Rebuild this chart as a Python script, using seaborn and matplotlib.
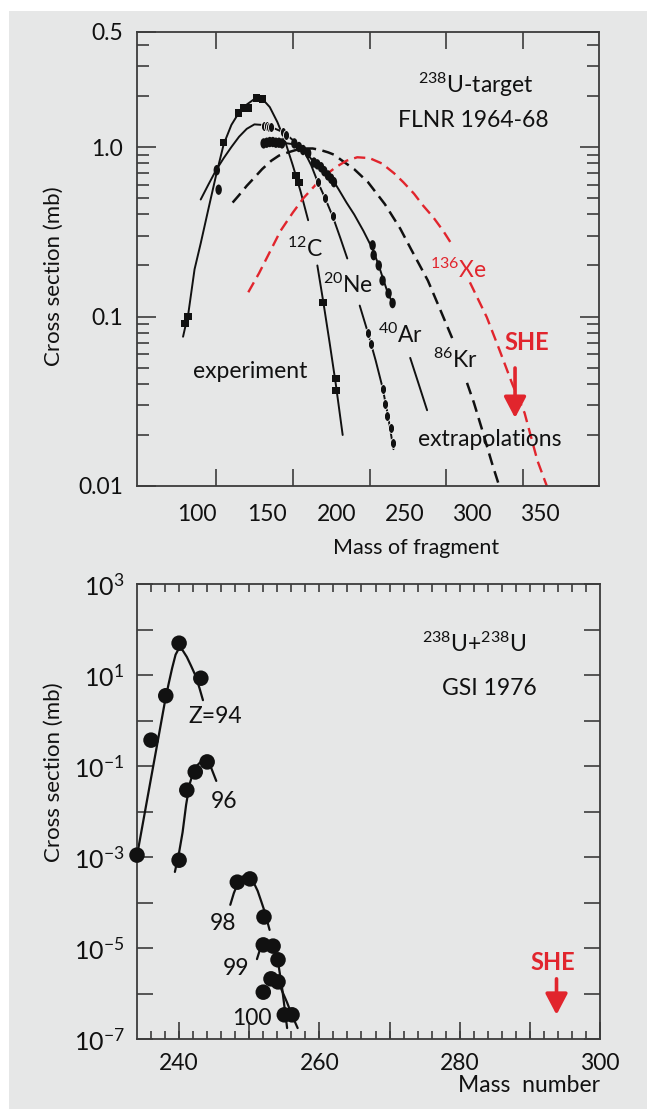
"""
Heavy-ion transfer cross sections: FLNR 1964-68 (238U target) and GSI 1976 (238U+238U).
"""
import numpy as np
import matplotlib.pyplot as plt
import seaborn as sns
from matplotlib.patches import Rectangle
from matplotlib.path import Path
from matplotlib.transforms import Affine2D
from matplotlib.ticker import FixedLocator, LogLocator, NullFormatter, NullLocator

sns.set_theme(style="ticks")
plt.rcParams["font.family"] = ["Lato", "DejaVu Sans"]
plt.rcParams["mathtext.fontset"] = "custom"
plt.rcParams["mathtext.rm"] = "Lato"
plt.rcParams["mathtext.it"] = "Lato:italic"
plt.rcParams["mathtext.bf"] = "Lato:bold"
plt.rcParams["mathtext.default"] = "regular"

BG = "#e6e7e7"
RED = "#e1252d"
INK = "#111111"
AXC = "#3c3c3c"
FS = 16        # axis titles
FS_TICK = 16.5
FS_TXT = 16.5  # in-plot annotations

# ---------------------------------------------------------------
# Top panel data (mass of fragment, cross section in mb)
# ---------------------------------------------------------------
c12_a_x = [78.5, 82, 86, 90, 95, 100, 105, 110, 115, 120, 125, 130, 135, 140, 145, 150, 155, 160]
c12_a_y = [0.076, 0.105, 0.19, 0.27, 0.43, 0.68, 1.04, 1.35, 1.6, 1.78, 1.92, 1.93, 1.72, 1.4, 1.08, 0.78, 0.55, 0.37]
c12_b_x = [166, 170, 174, 178, 182.5]
c12_b_y = [0.2, 0.12, 0.07, 0.04, 0.02]
c12_pts_x = [79.8, 81.7, 105, 114.7, 117.9, 121.1, 126.3, 130.2, 152.2, 154.1, 169.7, 178.1, 178.1]
c12_pts_y = [0.091, 0.1, 1.06, 1.59, 1.7, 1.7, 1.95, 1.92, 0.68, 0.62, 0.121, 0.043, 0.0365]

ne_a_x = [90, 95, 100, 105, 110, 115, 120, 125, 130, 136, 144, 150, 157, 162, 166, 171, 176, 181, 185.5]
ne_a_y = [0.49, 0.6, 0.73, 0.86, 1.0, 1.15, 1.28, 1.36, 1.35, 1.31, 1.22, 1.1, 0.96, 0.78, 0.63, 0.5, 0.39, 0.29, 0.22]
ne_b_x = [193.6, 199, 204, 208.5, 212, 215.6]
ne_b_y = [0.116, 0.08, 0.055, 0.038, 0.026, 0.0165]
ne_pts_x = [131.5, 133, 134.5, 136, 143.8, 145.7, 166.4, 171, 176.1, 198.8, 200.7, 208.5, 210.4, 211.7, 213.7, 215]
ne_pts_y = [1.33, 1.33, 1.32, 1.31, 1.23, 1.18, 0.62, 0.5, 0.39, 0.08, 0.069, 0.0376, 0.0306, 0.026, 0.022, 0.018]

ar_a_x = [131, 137, 143, 150, 157, 163, 168, 173, 177, 180, 185, 190, 196, 202, 206, 209, 212, 215]
ar_a_y = [1.06, 1.07, 1.06, 1.04, 0.96, 0.83, 0.76, 0.68, 0.62, 0.56, 0.47, 0.4, 0.32, 0.25, 0.2, 0.165, 0.137, 0.12]
ar_b_x = [226.5, 232, 237.5]
ar_b_y = [0.057, 0.04, 0.028]
ar_pts_x = [100.5, 101.7, 131, 133, 135, 137, 139, 141, 143, 151, 154, 156.7, 160, 163.8, 166, 168.4,
            170.5, 172.9, 175, 176.8, 202, 202.7, 206, 208.5, 212.4, 215]
ar_pts_y = [0.73, 0.56, 1.05, 1.06, 1.07, 1.07, 1.06, 1.06, 1.05, 1.05, 1.0, 0.96, 0.92, 0.81, 0.79, 0.76,
            0.72, 0.68, 0.65, 0.62, 0.263, 0.23, 0.2, 0.163, 0.137, 0.12]

kr_a_x = [110.8, 115, 120, 125, 130, 136, 141, 147, 152, 157, 163, 168, 173, 177, 183, 190, 199, 210,
          220, 227, 238, 246, 254]
kr_a_y = [0.47, 0.52, 0.59, 0.66, 0.74, 0.83, 0.89, 0.93, 0.96, 0.98, 0.98, 0.96, 0.93, 0.9, 0.82, 0.74,
          0.62, 0.46, 0.33, 0.25, 0.163, 0.11, 0.074]
kr_b_x = [263.5, 268, 273, 279.7, 284.8]
kr_b_y = [0.0406, 0.031, 0.022, 0.0137, 0.0098]

xe_a_x = [121, 128, 135, 142, 150, 157, 165, 172, 178, 185, 192, 200, 208, 216, 222, 229, 235, 241.5, 248, 254]
xe_a_y = [0.139, 0.18, 0.24, 0.32, 0.41, 0.5, 0.6, 0.69, 0.76, 0.83, 0.87, 0.86, 0.8, 0.7, 0.62, 0.53,
          0.45, 0.385, 0.32, 0.263]
xe_b_x = [265.4, 271, 276.4, 284.8, 293, 301, 309.4, 315.5]
xe_b_y = [0.159, 0.125, 0.099, 0.063, 0.04, 0.027, 0.0141, 0.01]

top_major_x = [100, 150, 200, 250, 300]
top_xlabels = ["100", "150", "200", "250", "300", "350"]
top_xlabel_pos = [87.6, 133.2, 178.8, 223.1, 266.7, 311.0]
top_ylim = (0.01, 4.77)
top_yticks = [0.01, 0.1, 1.0, 4.77]
top_ylabels = ["0.01", "0.1", "1.0", "0.5"]

# ---------------------------------------------------------------
# Bottom panel data (mass number, cross section in mb)
# ---------------------------------------------------------------
z94_x = [234.1, 235, 236, 237, 238, 238.5, 239, 239.5, 240, 240.5, 241.1, 241.7, 242.3, 242.9, 243.4]
z94_y = [1.3e-3, 7.6e-3, 0.054, 0.38, 2.7, 6.3, 14, 28, 39, 35, 25, 16, 10, 5.2, 2.8]
z94_pts_x = [234.0, 236, 238.1, 240, 243.1]
z94_pts_y = [1.1e-3, 0.37, 3.5, 50, 8.5]

z96_x = [239.4, 240, 240.5, 241, 241.5, 242, 242.5, 243, 243.5, 244, 244.6, 245.3]
z96_y = [4.7e-4, 1.26e-3, 3.5e-3, 0.014, 0.04, 0.071, 0.1, 0.12, 0.132, 0.126, 0.089, 0.047]
z96_pts_x = [240, 241.1, 242.3, 244]
z96_pts_y = [8.5e-4, 0.0295, 0.074, 0.123]

z98_x = [247.3, 247.8, 248.3, 248.8, 249.4, 250, 250.6, 251.2, 251.7, 252.2, 252.9]
z98_y = [8.9e-5, 1.6e-4, 2.5e-4, 3.5e-4, 4.0e-4, 3.8e-4, 2.8e-4, 1.8e-4, 1.07e-4, 6.3e-5, 2.5e-5]
z98_pts_x = [248.3, 250.1, 252.1]
z98_pts_y = [2.8e-4, 3.3e-4, 4.8e-5]

z99_x = [251.1, 251.6, 252.2, 252.9, 253.5, 254.1, 254.7, 255.4]
z99_y = [5.7e-6, 1e-5, 1.26e-5, 1.2e-5, 8.9e-6, 5e-6, 1.26e-6, 1.74e-7]
z99_pts_x = [252, 253.4, 254.1]
z99_pts_y = [1.17e-5, 1.1e-5, 5.5e-6]

z100_x = [254, 254.7, 255.4, 256.1, 256.9]
z100_y = [2e-6, 1.12e-6, 6.3e-7, 3.3e-7, 1.74e-7]
z100_pts_x = [252, 253.1, 254.1, 255, 256.1]
z100_pts_y = [1.07e-6, 2.1e-6, 1.8e-6, 3.4e-7, 3.4e-7]

bot_exponents = list(range(-7, 4))
bot_major_x = [240, 250, 260, 270, 280, 290, 300]
bot_xlabels = ["240", "", "260", "", "280", "", "300"]
bot_minor_x = list(range(236, 300, 2))


def curve(ax, xs, ys, color=INK, ls="-", lw=1.4):
    sns.lineplot(x=xs, y=ys, ax=ax, color=color, linestyle=ls, linewidth=lw,
                 sort=False, estimator=None)


def points(ax, xs, ys, marker, s, ec="none", lw=0):
    sns.scatterplot(x=xs, y=ys, ax=ax, marker=marker, s=s, color=INK,
                    edgecolor=ec, linewidth=lw, zorder=4, clip_on=False)


def style_frame(ax):
    ax.set_facecolor(BG)
    for sp in ax.spines.values():
        sp.set_visible(True)
        sp.set_color(AXC)
        sp.set_linewidth(1.3)


def she_arrow(ax, x, y_from, y_to):
    ax.annotate("", xy=(x, y_to), xytext=(x, y_from),
                arrowprops=dict(arrowstyle="-|>,head_length=0.8,head_width=0.42", color=RED,
                                lw=2.6, shrinkA=0, shrinkB=0, mutation_scale=16))


oval = Path.unit_circle().transformed(Affine2D().scale(0.62, 1.0))
DASH = (0, (4.8, 2.6))

fig = plt.figure(figsize=(6.47, 11.09), dpi=100, facecolor="white")
fig.patches.append(Rectangle((9 / 647, 0), 1, 1 - 11 / 1109, transform=fig.transFigure,
                             facecolor=BG, edgecolor="none", zorder=-10))

# ---------------------------------------------------------------
# Top panel
# ---------------------------------------------------------------
ax1 = fig.add_axes([137 / 647, 1 - 486 / 1109, 462 / 647, 454 / 1109])
style_frame(ax1)
ax1.set_yscale("log")
ax1.set_xlim(48.5, 349.5)
ax1.set_ylim(*top_ylim)

curve(ax1, c12_a_x, c12_a_y)
curve(ax1, c12_b_x, c12_b_y)
curve(ax1, ne_a_x, ne_a_y)
curve(ax1, ne_b_x, ne_b_y)
curve(ax1, ar_a_x, ar_a_y)
curve(ax1, ar_b_x, ar_b_y)
curve(ax1, kr_a_x, kr_a_y, ls=DASH, lw=1.8)
curve(ax1, kr_b_x, kr_b_y, ls=DASH, lw=1.8)
curve(ax1, xe_a_x, xe_a_y, color=RED, ls=DASH, lw=1.7)
curve(ax1, xe_b_x, xe_b_y, color=RED, ls=DASH, lw=1.7)

points(ax1, c12_pts_x, c12_pts_y, "s", 28)
points(ax1, ne_pts_x, ne_pts_y, oval, 50, ec="white", lw=0.6)
points(ax1, ar_pts_x, ar_pts_y, oval, 56)

ax1.set_xticks(top_major_x)
ax1.xaxis.set_major_formatter(NullFormatter())
ax1.set_xticks(top_xlabel_pos, labels=top_xlabels, minor=True)
ax1.tick_params(axis="x", which="major", direction="in", length=12, width=1.2, color=AXC,
                top=True, bottom=True)
ax1.tick_params(axis="x", which="minor", length=0, pad=13, labelsize=FS_TICK, labelcolor=INK)
ax1.set_yticks(top_yticks, labels=top_ylabels)
ax1.yaxis.set_minor_locator(LogLocator(base=10, subs=np.arange(2, 10)))
ax1.yaxis.set_minor_formatter(NullFormatter())
ax1.tick_params(axis="y", which="major", direction="in", length=13.5, width=1.2, color=AXC,
                left=True, right=True, pad=10, labelsize=FS_TICK, labelcolor=INK)
ax1.tick_params(axis="y", which="minor", direction="in", length=8.5, width=1.2, color=AXC,
                left=True, right=True)

ax1.set_ylabel("Cross section (mb)", fontsize=FS, color=INK)
ax1.yaxis.set_label_coords(-0.158, 0.463)
ax1.set_xlabel("Mass of fragment", fontsize=15.5, color=INK)
ax1.xaxis.set_label_coords(0.604, -0.114)

ax1.text(269.3, 2.32, "$^{238}$U-target", fontsize=FS_TXT, ha="center", va="center", color=INK)
ax1.text(267.4, 1.44, "FLNR 1964-68", fontsize=FS_TXT, ha="center", va="center", color=INK)
for label, lx, ly, col in [("$^{12}$C", 146.2, 0.2244, INK),
                           ("$^{20}$Ne", 169.7, 0.1376, INK),
                           ("$^{40}$Ar", 205.5, 0.0698, INK),
                           ("$^{86}$Kr", 241.3, 0.0497, INK),
                           ("$^{136}$Xe", 239.4, 0.1687, RED),
                           ("experiment", 85.0, 0.0434, INK),
                           ("extrapolations", 231.6, 0.0172, INK)]:
    ax1.text(lx, ly, label, fontsize=FS_TXT, ha="left", va="baseline", color=col)
ax1.text(302.6, 0.0698, "SHE", fontsize=17, fontweight="bold", ha="center", va="center", color=RED)
she_arrow(ax1, 294.8, 0.0497, 0.0252)

# ---------------------------------------------------------------
# Bottom panel
# ---------------------------------------------------------------
ax2 = fig.add_axes([137 / 647, 1 - 1039 / 1109, 463 / 647, 455 / 1109])
style_frame(ax2)
ax2.set_yscale("log")
ax2.set_xlim(234, 300)
ax2.set_ylim(1e-7, 1e3)

for xs, ys in [(z94_x, z94_y), (z96_x, z96_y), (z98_x, z98_y), (z99_x, z99_y), (z100_x, z100_y)]:
    curve(ax2, xs, ys, lw=1.6)
for xs, ys in [(z94_pts_x, z94_pts_y), (z96_pts_x, z96_pts_y), (z98_pts_x, z98_pts_y),
               (z99_pts_x, z99_pts_y), (z100_pts_x, z100_pts_y)]:
    points(ax2, xs, ys, "o", 125)

ax2.xaxis.remove_overlapping_locs = False
ax2.set_xticks(bot_major_x, labels=bot_xlabels)
ax2.set_xticks(bot_minor_x, minor=True)
ax2.tick_params(axis="x", which="major", direction="in", length=12, width=1.2, color=AXC,
                top=False, bottom=True, pad=10, labelsize=FS_TICK, labelcolor=INK)
ax2.tick_params(axis="x", which="minor", direction="in", length=6, width=1.2, color=AXC,
                top=True, bottom=True)
ax2.yaxis.set_major_locator(FixedLocator([10.0 ** e for e in bot_exponents]))
ax2.set_yticks([10.0 ** e for e in bot_exponents],
               labels=[f"$10^{{{e}}}$" if e % 2 else "" for e in bot_exponents])
ax2.yaxis.set_minor_locator(NullLocator())
ax2.tick_params(axis="y", which="major", direction="in", length=11.5, width=1.2, color=AXC,
                left=True, right=True, pad=9, labelsize=18, labelcolor=INK)

ax2.set_ylabel("Cross section (mb)", fontsize=FS, color=INK)
ax2.yaxis.set_label_coords(-0.158, 0.587)
ax2.set_xlabel("Mass  number", fontsize=16.5, color=INK)
ax2.xaxis.set_label_coords(0.847, -0.079)

ax2.text(282.1, 32, "$^{238}$U+$^{238}$U", fontsize=FS_TXT, ha="center", va="baseline", color=INK)
ax2.text(284.3, 3.72, "GSI 1976", fontsize=FS_TXT, ha="center", va="baseline", color=INK)
for label, lx, ly in [("Z=94", 241.3, 0.88), ("96", 244.5, 0.0119), ("98", 244.4, 2.5e-5),
                      ("99", 246.25, 2.6e-6), ("100", 247.5, 2.0e-7)]:
    ax2.text(lx, ly, label, fontsize=FS_TXT, ha="left", va="baseline", color=INK)
ax2.text(293.3, 4.7e-6, "SHE", fontsize=17, fontweight="bold", ha="center", va="center", color=RED)
she_arrow(ax2, 293.8, 2.1e-6, 3.4e-7)

fig.savefig("out.png", dpi=100, facecolor=fig.get_facecolor())
